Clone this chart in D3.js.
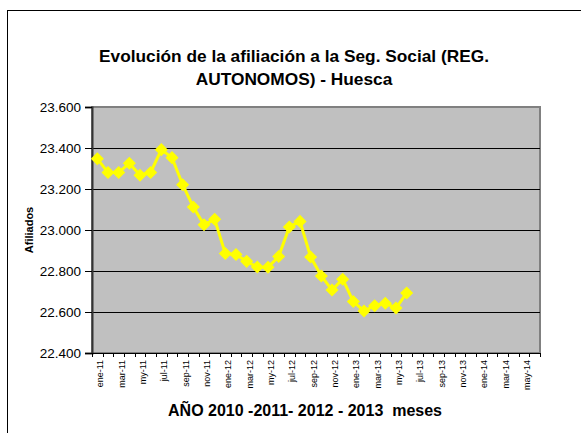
<!DOCTYPE html>
<html>
<head>
<meta charset="utf-8">
<script src="https://cdn.jsdelivr.net/npm/d3@7"></script>
<style>
  body { margin: 0; background: #fff; }
  svg { display: block; font-family: Arial, "Liberation Sans", sans-serif; }
</style>
</head>
<body>
<div id="chart"></div>
<script>
// monthly categories ene-11 .. jun-14
const months = ['ene', 'feb', 'mar', 'abr', 'my', 'jun', 'jul', 'ago', 'sep', 'oct', 'nov', 'dic'];
const years = ['11', '12', '13'];
const categories = [];
years.forEach(y => months.forEach(m => categories.push(m + '-' + y)));
const categories14 = ['ene-14', 'feb-14', 'mar-14', 'abr-14', 'may-14', 'jun-14'];
categories.push(...categories14);

// afiliados, ene-11 .. jun-13
const afiliados = [
  23348, 23280, 23280, 23326, 23267, 23281, 23392, 23353, 23221, 23112, 23026, 23052,
  22885, 22880, 22847, 22819, 22818, 22871, 23015, 23042, 22868, 22776, 22707, 22760,
  22651, 22605, 22631, 22643, 22619, 22693
];

const yTicks = [22400, 22600, 22800, 23000, 23200, 23400, 23600];

const title = ['Evolución de la afiliación a la Seg. Social (REG.', 'AUTONOMOS) - Huesca'];
const xTitle = 'AÑO 2010 -2011- 2012 - 2013  meses';
const yTitle = 'Afiliados';

const width = 581, height = 433;
const plot = { left: 92, top: 107, right: 540, bottom: 353 };

const svg = d3.select('#chart').append('svg')
  .attr('width', width)
  .attr('height', height);

// outer chart frame
svg.append('rect')
  .attr('x', 7.5).attr('y', 10.5)
  .attr('width', 600).attr('height', 500)
  .attr('fill', '#fff')
  .attr('stroke', '#000');

const x = d3.scaleBand()
  .domain(categories)
  .range([plot.left, plot.right]);

const y = d3.scaleLinear()
  .domain([22400, 23600])
  .range([plot.bottom, plot.top]);

// plot area
svg.append('rect')
  .attr('x', plot.left).attr('y', plot.top)
  .attr('width', plot.right - plot.left)
  .attr('height', plot.bottom - plot.top)
  .attr('fill', '#c0c0c0')
  .attr('stroke', '#808080')
  .attr('stroke-width', 2);

// gridlines
svg.append('g')
  .selectAll('line')
  .data(yTicks.slice(1, -1))
  .join('line')
  .attr('x1', plot.left).attr('x2', plot.right)
  .attr('y1', d => Math.round(y(d)) + 0.5)
  .attr('y2', d => Math.round(y(d)) + 0.5)
  .attr('stroke', '#000');

// y axis
const yAxis = svg.append('g')
  .attr('transform', `translate(${plot.left},0)`)
  .call(d3.axisLeft(y)
    .tickValues(yTicks)
    .tickSize(7)
    .tickPadding(4)
    .tickFormat(d => d3.format(',')(d).replace(',', '.')));
yAxis.select('.domain').attr('stroke', '#333').attr('stroke-width', 2);
yAxis.selectAll('.tick line').attr('stroke', '#000');
yAxis.selectAll('text')
  .attr('font-size', 13.5)
  .attr('fill', '#000');

// x axis: ticks at category boundaries
const xAxis = svg.append('g')
  .attr('transform', `translate(0,${plot.bottom})`);
xAxis.append('line')
  .attr('x1', plot.left).attr('x2', plot.right)
  .attr('y1', 0.5).attr('y2', 0.5)
  .attr('stroke', '#000');
xAxis.selectAll('line.tk')
  .data(categories.concat(['end']))
  .join('line')
  .attr('class', 'tk')
  .attr('x1', (d, i) => Math.round(plot.left + i * x.step()) + 0.5)
  .attr('x2', (d, i) => Math.round(plot.left + i * x.step()) + 0.5)
  .attr('y1', 0).attr('y2', 4)
  .attr('stroke', '#000');
xAxis.selectAll('text')
  .data(categories.filter((d, i) => i % 2 === 0))
  .join('text')
  .attr('transform', d => `translate(${x(d) + x.bandwidth() / 2 + 6},7) rotate(-90)`)
  .attr('text-anchor', 'end')
  .attr('font-size', 9)
  .attr('fill', '#000')
  .text(d => d);

// series line
const line = d3.line()
  .x((d, i) => x(categories[i]) + x.bandwidth() / 2)
  .y(d => y(d));

svg.append('path')
  .datum(afiliados)
  .attr('d', line)
  .attr('fill', 'none')
  .attr('stroke', '#ffff00')
  .attr('stroke-width', 3);

svg.append('g')
  .selectAll('path')
  .data(afiliados)
  .join('path')
  .attr('d', d3.symbol(d3.symbolSquare, 85))
  .attr('transform', (d, i) => `translate(${x(categories[i]) + x.bandwidth() / 2},${y(d)}) rotate(45)`)
  .attr('fill', '#ffff00');

// titles
svg.append('text')
  .attr('text-anchor', 'middle')
  .attr('font-size', 17.3)
  .attr('font-weight', 'bold')
  .selectAll('tspan')
  .data(title)
  .join('tspan')
  .attr('x', 294)
  .attr('y', (d, i) => 62 + i * 23)
  .text(d => d);

svg.append('text')
  .attr('x', 305)
  .attr('y', 416)
  .attr('text-anchor', 'middle')
  .attr('font-size', 16)
  .attr('font-weight', 'bold')
  .style('white-space', 'pre')
  .text(xTitle);

svg.append('text')
  .attr('transform', `translate(33,${(plot.top + plot.bottom) / 2}) rotate(-90)`)
  .attr('text-anchor', 'middle')
  .attr('font-size', 11)
  .attr('font-weight', 'bold')
  .text(yTitle);
</script>
</body>
</html>
